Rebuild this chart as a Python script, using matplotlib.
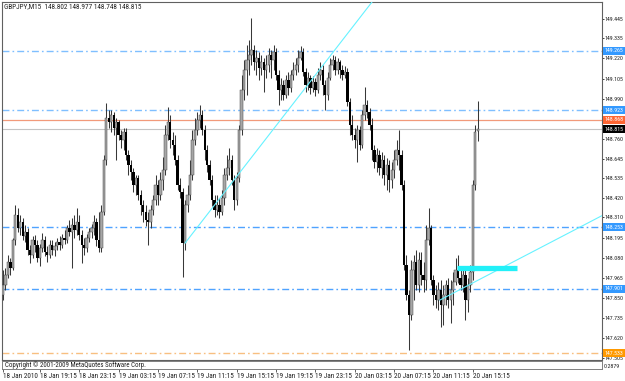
import numpy as np
import matplotlib
matplotlib.use("Agg")
import matplotlib.pyplot as plt
from matplotlib import transforms, font_manager
from matplotlib.patches import Rectangle

_names = {f.name for f in font_manager.fontManager.ttflist}
NARROW = 'DejaVu Sans'
for cand in ['Liberation Sans Narrow', 'DejaVu Sans Condensed', 'Roboto Condensed',
             'Open Sans Condensed', 'Liberation Sans', 'Roboto']:
    if cand in _names:
        NARROW = cand
        break
plt.rcParams['font.family'] = [NARROW, 'DejaVu Sans']

symbol_text = "GBPJPY,M15  148.802 148.977 148.748 148.815"

opens = [147.866, 147.923, 147.980, 148.055, 148.020, 148.180, 148.324, 148.249, 148.283, 148.203,
         148.226, 148.123, 148.095, 148.180, 148.152, 148.077, 148.135, 148.180, 148.112, 148.095,
         148.152, 148.123, 148.146, 148.169, 148.152, 148.192, 148.180, 148.249, 148.226, 148.266,
         148.238, 148.283, 148.209, 148.152, 148.135, 148.192, 148.226, 148.249, 148.283, 148.180,
         148.135, 148.341, 148.638, 148.879, 148.856, 148.896, 148.821, 148.856, 148.781, 148.753,
         148.799, 148.667, 148.610, 148.570, 148.495, 148.535, 148.438, 148.381, 148.341, 148.295,
         148.283, 148.352, 148.409, 148.495, 148.438, 148.524, 148.581, 148.781, 148.856, 148.753,
         148.724, 148.638, 148.495, 148.455, 148.163, 148.381, 148.438, 148.552, 148.753, 148.810,
         148.867, 148.896, 148.810, 148.696, 148.610, 148.524, 148.409, 148.352, 148.381, 148.341,
         148.421, 148.552, 148.593, 148.638, 148.524, 148.409, 148.535, 148.810, 149.039, 149.153,
         149.211, 149.239, 149.268, 149.199, 149.222, 149.165, 149.199, 149.153, 149.182, 149.239,
         149.211, 149.256, 149.125, 149.039, 149.068, 149.010, 149.096, 149.050, 149.125, 149.153,
         149.182, 149.222, 149.256, 149.142, 149.068, 149.108, 149.050, 149.085, 149.039, 149.125,
         149.153, 149.068, 149.010, 149.108, 149.182, 149.211, 149.153, 149.199, 149.153, 149.125,
         149.142, 148.970, 148.839, 148.781, 148.753, 148.810, 148.724, 148.896, 148.953, 148.913,
         148.839, 148.696, 148.627, 148.667, 148.593, 148.638, 148.552, 148.610, 148.524, 148.581,
         148.638, 148.696, 148.667, 148.495, 148.037, 147.866, 147.751, 148.009, 148.055, 147.923,
         148.066, 147.980, 147.952, 148.180, 148.249, 147.952, 147.866, 147.837, 147.894, 147.808,
         147.866, 147.923, 147.837, 147.894, 147.940, 148.009, 147.963, 147.923, 147.980, 147.837,
         147.923, 147.997, 148.495, 148.802]

highs = [148.009, 148.020, 148.095, 148.077, 148.192, 148.381, 148.364, 148.324, 148.306, 148.266,
         148.249, 148.152, 148.203, 148.209, 148.180, 148.157, 148.220, 148.203, 148.146, 148.180,
         148.180, 148.169, 148.192, 148.203, 148.215, 148.238, 148.266, 148.295, 148.306, 148.324,
         148.364, 148.324, 148.238, 148.192, 148.215, 148.249, 148.272, 148.324, 148.306, 148.341,
         148.381, 148.667, 148.965, 148.924, 148.924, 148.913, 148.879, 148.867, 148.810, 148.821,
         148.821, 148.696, 148.638, 148.593, 148.552, 148.552, 148.467, 148.409, 148.381, 148.341,
         148.381, 148.438, 148.552, 148.524, 148.570, 148.656, 148.839, 148.942, 148.896, 148.799,
         148.781, 148.667, 148.535, 148.478, 148.409, 148.495, 148.638, 148.810, 148.879, 148.913,
         148.953, 148.924, 148.839, 148.724, 148.638, 148.552, 148.438, 148.438, 148.421, 148.467,
         148.593, 148.667, 148.707, 148.667, 148.552, 148.570, 148.839, 149.125, 149.211, 149.296,
         149.325, 149.451, 149.296, 149.268, 149.256, 149.239, 149.222, 149.239, 149.279, 149.268,
         149.296, 149.279, 149.153, 149.108, 149.096, 149.125, 149.142, 149.153, 149.199, 149.222,
         149.268, 149.291, 149.279, 149.165, 149.142, 149.125, 149.119, 149.108, 149.165, 149.199,
         149.182, 149.096, 149.142, 149.222, 149.239, 149.233, 149.222, 149.211, 149.182, 149.176,
         149.165, 148.993, 148.896, 148.821, 148.839, 148.833, 148.924, 149.056, 148.982, 148.936,
         148.879, 148.724, 148.707, 148.696, 148.684, 148.667, 148.650, 148.638, 148.627, 148.696,
         148.753, 148.810, 148.696, 148.524, 148.095, 147.894, 148.066, 148.095, 148.123, 148.112,
         148.112, 148.055, 148.266, 148.364, 148.266, 147.980, 147.923, 147.940, 147.952, 147.923,
         147.952, 147.963, 147.952, 147.997, 148.077, 148.095, 148.020, 148.020, 148.009, 147.963,
         148.037, 148.524, 148.839, 148.977]

lows = [147.837, 147.894, 147.963, 147.980, 148.009, 148.152, 148.226, 148.209, 148.180, 148.169,
        148.095, 148.049, 148.077, 148.112, 148.055, 148.032, 148.112, 148.089, 148.055, 148.077,
        148.095, 148.089, 148.123, 148.123, 148.135, 148.157, 148.163, 148.203, 148.020, 148.192,
        148.209, 148.180, 148.049, 148.095, 148.112, 148.169, 148.192, 148.209, 148.146, 148.112,
        148.112, 148.324, 148.610, 148.821, 148.799, 148.781, 148.638, 148.753, 148.707, 148.696,
        148.638, 148.552, 148.524, 148.455, 148.438, 148.409, 148.324, 148.283, 148.261, 148.152,
        148.249, 148.324, 148.381, 148.381, 148.409, 148.467, 148.552, 148.753, 148.707, 148.667,
        148.610, 148.467, 148.421, 147.969, 148.123, 148.341, 148.409, 148.524, 148.724, 148.781,
        148.821, 148.781, 148.638, 148.570, 148.495, 148.375, 148.312, 148.324, 148.306, 148.324,
        148.381, 148.524, 148.552, 148.495, 148.352, 148.381, 148.512, 148.781, 148.982, 149.010,
        149.125, 149.182, 149.153, 149.125, 149.096, 149.125, 149.027, 149.108, 149.142, 149.108,
        149.153, 149.096, 148.953, 148.982, 148.982, 148.993, 149.010, 149.027, 149.096, 149.125,
        149.142, 149.211, 149.119, 149.027, 149.039, 149.016, 149.027, 149.005, 149.022, 149.096,
        149.010, 148.924, 148.982, 149.096, 149.153, 149.125, 149.131, 149.108, 149.096, 149.108,
        148.947, 148.781, 148.753, 148.707, 148.627, 148.696, 148.707, 148.867, 148.879, 148.810,
        148.638, 148.593, 148.570, 148.552, 148.535, 148.495, 148.467, 148.455, 148.478, 148.535,
        148.610, 148.581, 148.467, 148.009, 147.837, 147.551, 147.723, 147.837, 147.894, 147.883,
        147.923, 147.883, 147.894, 148.152, 147.923, 147.808, 147.791, 147.780, 147.683, 147.694,
        147.808, 147.791, 147.706, 147.808, 147.923, 147.934, 147.894, 147.883, 147.723, 147.769,
        147.883, 147.952, 148.467, 148.748]

closes = [147.923, 147.980, 148.055, 148.020, 148.180, 148.324, 148.249, 148.283, 148.203, 148.226,
          148.123, 148.095, 148.180, 148.152, 148.077, 148.135, 148.180, 148.112, 148.095, 148.152,
          148.123, 148.146, 148.169, 148.152, 148.192, 148.180, 148.249, 148.226, 148.266, 148.238,
          148.283, 148.209, 148.152, 148.135, 148.192, 148.226, 148.249, 148.283, 148.180, 148.135,
          148.341, 148.638, 148.879, 148.856, 148.896, 148.821, 148.856, 148.781, 148.753, 148.799,
          148.667, 148.610, 148.570, 148.495, 148.535, 148.438, 148.381, 148.341, 148.295, 148.283,
          148.352, 148.409, 148.495, 148.438, 148.524, 148.581, 148.781, 148.856, 148.753, 148.724,
          148.638, 148.495, 148.455, 148.163, 148.381, 148.438, 148.552, 148.753, 148.810, 148.867,
          148.896, 148.810, 148.696, 148.610, 148.524, 148.409, 148.352, 148.381, 148.341, 148.421,
          148.552, 148.593, 148.638, 148.524, 148.409, 148.535, 148.810, 149.039, 149.153, 149.211,
          149.239, 149.268, 149.199, 149.222, 149.165, 149.199, 149.153, 149.182, 149.239, 149.211,
          149.256, 149.125, 149.039, 149.068, 149.010, 149.096, 149.050, 149.125, 149.153, 149.182,
          149.222, 149.256, 149.142, 149.068, 149.108, 149.050, 149.085, 149.039, 149.125, 149.153,
          149.068, 149.010, 149.108, 149.182, 149.211, 149.153, 149.199, 149.153, 149.125, 149.142,
          148.970, 148.839, 148.781, 148.753, 148.810, 148.724, 148.896, 148.953, 148.913, 148.839,
          148.696, 148.627, 148.667, 148.593, 148.638, 148.552, 148.610, 148.524, 148.581, 148.638,
          148.696, 148.667, 148.495, 148.037, 147.866, 147.751, 148.009, 148.055, 147.923, 148.066,
          147.980, 147.952, 148.180, 148.249, 147.952, 147.866, 147.837, 147.894, 147.808, 147.866,
          147.923, 147.837, 147.894, 147.940, 148.009, 147.963, 147.923, 147.980, 147.837, 147.923,
          147.997, 148.495, 148.799, 148.815]

price_ticks = [149.445, 149.335, 149.220, 149.105, 148.990, 148.760, 148.645, 148.535,
               148.420, 148.310, 148.195, 148.080, 147.965, 147.850, 147.735, 147.620, 147.505]

time_tick_bars = [0, 15, 31, 47, 63, 79, 95, 111, 127, 143, 159, 175, 191]
time_tick_labels = ["18 Jan 2010", "18 Jan 19:15", "18 Jan 23:15", "19 Jan 03:15", "19 Jan 07:15",
                    "19 Jan 11:15", "19 Jan 15:15", "19 Jan 19:15", "19 Jan 23:15", "20 Jan 03:15",
                    "20 Jan 07:15", "20 Jan 11:15", "20 Jan 15:15"]

dashdot_levels = [149.265, 148.923, 148.253, 147.901]
dashdot_colors = ['#7fbfff', '#7fbfff', '#4fa3ff', '#4fa3ff']
resist_level = 148.868
bid_level = 148.815
support_level = 147.533

box_values = [149.265, 148.923, 148.868, 148.815, 148.253, 147.901, 147.533]
box_colors = ['#3399ff', '#3399ff', '#ff6633', '#000000', '#3399ff', '#3399ff', '#ff9900']

trend1_bars = [74, 150]
trend1_prices = [148.163, 149.543]
trend2_bars = [177.6, 244]
trend2_prices = [147.837, 148.324]
zone_bars = [184.4, 209.0]
zone_price = 148.018

W, H = 625, 381
fig = plt.figure(figsize=(W / 100, H / 100), dpi=100)
fig.patch.set_facecolor('white')

renderer = fig.canvas.get_renderer()


def fit_size(sample, max_px, start=6.0):
    for s in np.arange(start, 3.0, -0.1):
        t = fig.text(0, 0, sample, fontsize=s)
        w = t.get_window_extent(renderer).width
        t.remove()
        if w <= max_px:
            return float(s)
    return 3.0


FS = fit_size("18 Jan 19:15", 37)
FSP = min(FS, fit_size("149.445", 19.0))

ax = fig.add_axes([2 / W, 1 - 360 / H, 600 / W, 358 / H])
ax.set_xlim(-0.41, 243.5)
ax.set_ylim(147.494, 149.543)

x = np.arange(len(closes))
o = np.array(opens); c = np.array(closes); hi = np.array(highs); lo = np.array(lows)
up = c >= o

for lv, col in zip(dashdot_levels, dashdot_colors):
    ax.axhline(lv, color=col, lw=1.0, linestyle=(0, (5, 2.2, 1.2, 2.2)), zorder=1)
ax.axhline(support_level, color='#f8bf80', lw=1.0, linestyle=(0, (5, 2.2, 1.2, 2.2)), zorder=1)
ax.axhline(resist_level, color='#f29a7a', lw=0.9, zorder=1)
ax.axhline(bid_level, color='#c4c4c4', lw=0.8, zorder=1)

ax.vlines(x, lo, hi, color='#383838', lw=0.75, zorder=3)
body_h = np.where(np.abs(c - o) < 0.002, 0.002, c - o)
ax.bar(x[up], body_h[up], bottom=o[up], width=0.95, color='#a6a6a6', edgecolor='#4a4a4a',
       linewidth=0.35, zorder=4)
ax.bar(x[~up], body_h[~up], bottom=o[~up], width=0.95, color='#000000', linewidth=0, zorder=4)

ax.plot(trend1_bars, trend1_prices, color='#66f2ff', lw=0.8, zorder=5)
ax.plot(trend2_bars, trend2_prices, color='#66f2ff', lw=0.8, zorder=5)
ax.plot(zone_bars, [zone_price, zone_price], color='#22f0f8', lw=3.8,
        solid_capstyle='butt', zorder=6)

for s in ax.spines.values():
    s.set_color('#606060'); s.set_linewidth(0.8)
ax.yaxis.tick_right()
ax.set_yticks(price_ticks)
ax.set_yticklabels([f"{v:.3f}" for v in price_ticks])
ax.tick_params(axis='y', length=1.6, width=0.6, pad=0.5, labelsize=FSP, colors='#202020')
ax.tick_params(axis='x', bottom=False, labelbottom=False)

btr = transforms.blended_transform_factory(ax.transAxes, ax.transData)
bh = 8 * (149.543 - 147.494) / 358
for v, col in zip(box_values, box_colors):
    ax.add_patch(Rectangle((1.0015, v - bh / 2), 0.06, bh, transform=btr, facecolor=col,
                           edgecolor='none', clip_on=False, zorder=10))
    ax.text(1.004, v, f"{v:.3f}", transform=btr, ha='left', va='center', fontsize=FSP,
            color='white', zorder=11, clip_on=False)

ax2 = fig.add_axes([2 / W, 1 - 369 / H, 600 / W, 8 / H], sharex=ax)
ax2.set_yticks([])
for s in ax2.spines.values():
    s.set_color('#808080'); s.set_linewidth(0.7)
ax2.set_xticks(time_tick_bars)
ax2.set_xticklabels(time_tick_labels)
for lab in ax2.get_xticklabels():
    lab.set_horizontalalignment('left')
ax2.tick_params(axis='x', length=2, width=0.5, pad=1.0, labelsize=FS, colors='#202020')
ax2.set_xlim(-0.41, 243.5)

fig.text(4 / W, 1 - 7 / H, symbol_text, fontsize=FS, va='center', ha='left', color='#202020')
fig.text(5 / W, 1 - 365 / H, "Copyright \u00a9 2001-2009 MetaQuotes Software Corp.",
         fontsize=FS * 0.95, va='center', ha='left', color='#202020')
fig.text(604 / W, 1 - 366 / H, "0.2879", fontsize=FSP, va='center', ha='left', color='#202020')

fig.savefig("out.png", dpi=100)
